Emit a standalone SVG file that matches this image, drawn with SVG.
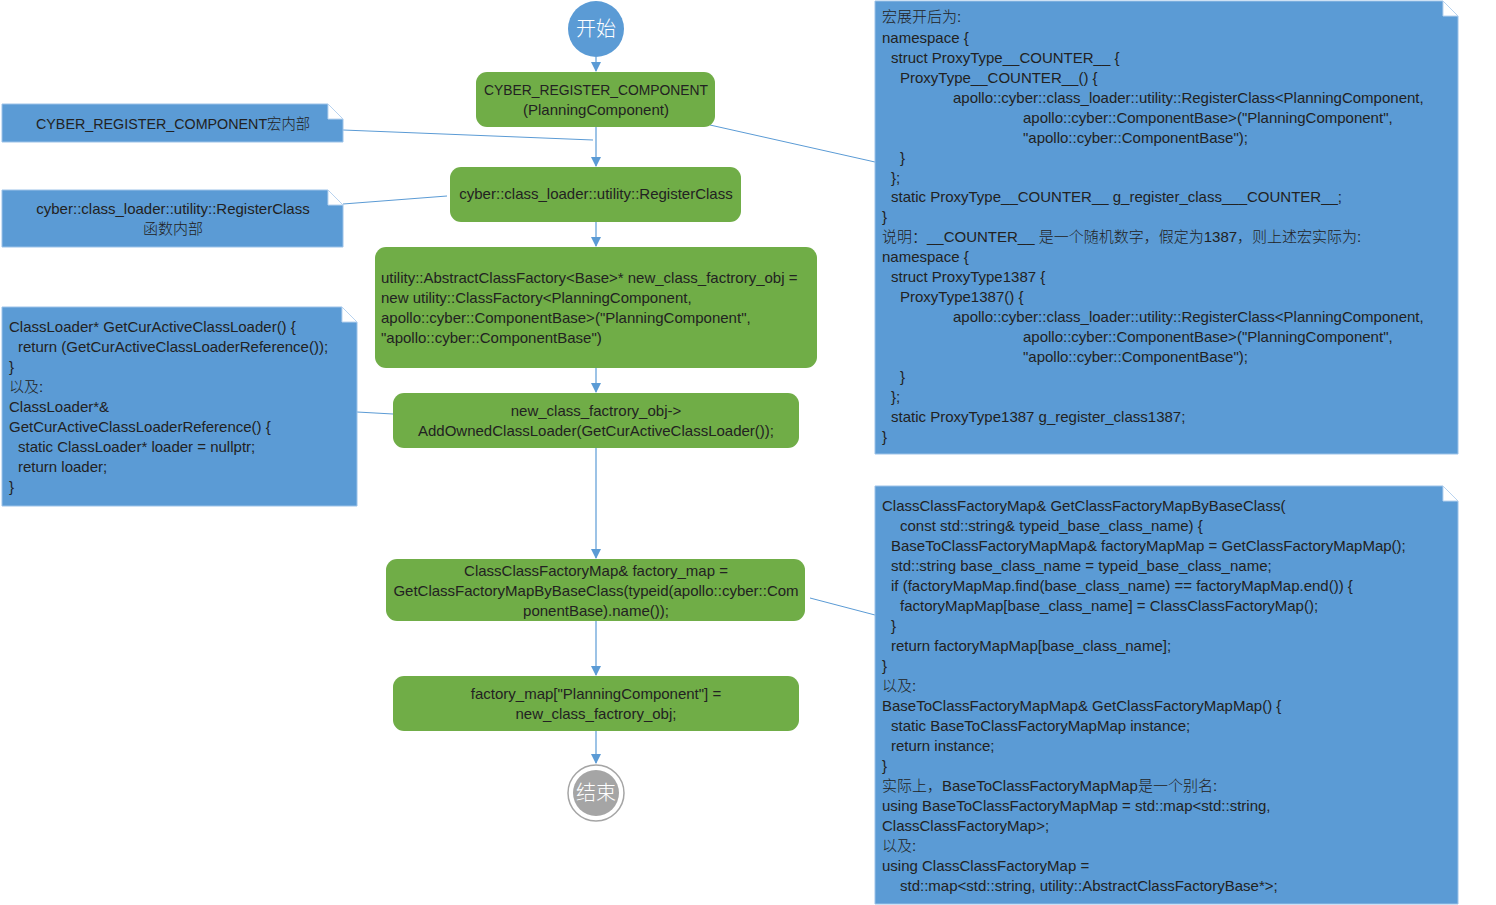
<svg xmlns="http://www.w3.org/2000/svg" width="1496" height="905" viewBox="0 0 1496 905">
<style>
text{font-family:"Liberation Sans","Noto Sans CJK SC",sans-serif;font-size:15px;fill:#222;font-weight:300}
.c{text-anchor:middle}
.note{fill:#5b9bd5;stroke:#9cc2e8;stroke-width:1}
.fold{fill:#ffffff;stroke:#b8d3ef;stroke-width:1}
.box{fill:#70ad47}
.conn{stroke:#5b9bd5;stroke-width:1.2;fill:none}
.lnk{stroke:#5b9bd5;stroke-width:1;fill:none}
.w{fill:#ffffff;font-size:20px}
</style>
<defs>
<marker id="ah" markerWidth="10" markerHeight="10" refX="9" refY="5" orient="auto" markerUnits="userSpaceOnUse">
<path d="M0,0 L10,5 L0,10 z" fill="#5b9bd5"/>
</marker>
</defs>
<rect width="1496" height="905" fill="#ffffff"/>

<g id="connectors">
<line class="conn" x1="596" y1="57" x2="596" y2="71" marker-end="url(#ah)"/>
<line class="conn" x1="596" y1="127" x2="596" y2="166" marker-end="url(#ah)"/>
<line class="conn" x1="596" y1="222" x2="596" y2="246" marker-end="url(#ah)"/>
<line class="conn" x1="596" y1="368" x2="596" y2="392" marker-end="url(#ah)"/>
<line class="conn" x1="596" y1="448" x2="596" y2="558" marker-end="url(#ah)"/>
<line class="conn" x1="596" y1="621" x2="596" y2="675" marker-end="url(#ah)"/>
<line class="conn" x1="596" y1="731" x2="596" y2="763" marker-end="url(#ah)"/>
<line class="lnk" x1="343" y1="130" x2="593" y2="140"/>
<line class="lnk" x1="343" y1="204" x2="447" y2="196"/>
<line class="lnk" x1="357" y1="412" x2="393" y2="414"/>
<line class="lnk" x1="710" y1="125" x2="875" y2="162"/>
<line class="lnk" x1="810" y1="598" x2="875" y2="615"/>
</g>

<g id="start">
<circle cx="596" cy="29" r="28" fill="#5b9bd5"/>
<text class="c w" x="596" y="36">开始</text>
</g>

<g id="n1">
<rect class="box" x="476" y="72" width="239" height="55" rx="11"/>
<text class="c" x="596" y="95" textLength="224" lengthAdjust="spacingAndGlyphs">CYBER_REGISTER_COMPONENT</text>
<text class="c" x="596" y="115">(PlanningComponent)</text>
</g>

<g id="n2">
<rect class="box" x="450" y="167" width="291" height="55" rx="11"/>
<text class="c" x="596" y="199">cyber::class_loader::utility::RegisterClass</text>
</g>

<g id="n3">
<rect class="box" x="375" y="247" width="442" height="121" rx="11"/>
<text x="381" y="283">utility::AbstractClassFactory&lt;Base&gt;* new_class_factrory_obj =</text>
<text x="381" y="303">new utility::ClassFactory&lt;PlanningComponent,</text>
<text x="381" y="323">apollo::cyber::ComponentBase&gt;("PlanningComponent",</text>
<text x="381" y="343">"apollo::cyber::ComponentBase")</text>
</g>

<g id="n4">
<rect class="box" x="393" y="393" width="406" height="55" rx="11"/>
<text class="c" x="596" y="416">new_class_factrory_obj-&gt;</text>
<text class="c" x="596" y="436">AddOwnedClassLoader(GetCurActiveClassLoader());</text>
</g>

<g id="n5">
<rect class="box" x="386" y="559" width="419" height="62" rx="11"/>
<text class="c" x="596" y="576">ClassClassFactoryMap&amp; factory_map =</text>
<text class="c" x="596" y="596">GetClassFactoryMapByBaseClass(typeid(apollo::cyber::Com</text>
<text class="c" x="596" y="616">ponentBase).name());</text>
</g>

<g id="n6">
<rect class="box" x="393" y="676" width="406" height="55" rx="11"/>
<text class="c" x="596" y="699">factory_map["PlanningComponent"] =</text>
<text class="c" x="596" y="719">new_class_factrory_obj;</text>
</g>

<g id="end">
<circle cx="596" cy="793" r="28" fill="#ffffff" stroke="#a5a5a5" stroke-width="1.5"/>
<circle cx="596" cy="793" r="23" fill="#a5a5a5"/>
<text class="c w" x="596" y="800">结束</text>
</g>

<g id="noteA">
<path class="note" d="M2,104 H328 L343,119 V142 H2 Z"/>
<path class="fold" d="M328,104 V119 H343 Z"/>
<text class="c" x="173" y="129" textLength="274" lengthAdjust="spacingAndGlyphs">CYBER_REGISTER_COMPONENT宏内部</text>
</g>

<g id="noteB">
<path class="note" d="M2,190 H328 L343,205 V247 H2 Z"/>
<path class="fold" d="M328,190 V205 H343 Z"/>
<text class="c" x="173" y="214">cyber::class_loader::utility::RegisterClass</text>
<text class="c" x="173" y="234">函数内部</text>
</g>

<g id="noteC">
<path class="note" d="M2,307 H342 L357,322 V506 H2 Z"/>
<path class="fold" d="M342,307 V322 H357 Z"/>
<text x="9" y="332">ClassLoader* GetCurActiveClassLoader() {</text>
<text x="18" y="352">return (GetCurActiveClassLoaderReference());</text>
<text x="9" y="372">}</text>
<text x="9" y="392">以及:</text>
<text x="9" y="412">ClassLoader*&amp;</text>
<text x="9" y="432">GetCurActiveClassLoaderReference() {</text>
<text x="18" y="452">static ClassLoader* loader = nullptr;</text>
<text x="18" y="472">return loader;</text>
<text x="9" y="492">}</text>
</g>

<g id="noteD">
<path class="note" d="M875,1 H1443 L1458,16 V454 H875 Z"/>
<path class="fold" d="M1443,1 V16 H1458 Z"/>
<text x="882" y="22">宏展开后为:</text>
<text x="882" y="43">namespace {</text>
<text x="891" y="63">struct ProxyType__COUNTER__ {</text>
<text x="900" y="83">ProxyType__COUNTER__() {</text>
<text x="953" y="103">apollo::cyber::class_loader::utility::RegisterClass&lt;PlanningComponent,</text>
<text x="1023" y="123">apollo::cyber::ComponentBase&gt;("PlanningComponent",</text>
<text x="1023" y="143">"apollo::cyber::ComponentBase");</text>
<text x="900" y="163">}</text>
<text x="891" y="183">};</text>
<text x="891" y="202">static ProxyType__COUNTER__ g_register_class___COUNTER__;</text>
<text x="882" y="222">}</text>
<text x="882" y="242">说明：__COUNTER__ 是一个随机数字，假定为1387，则上述宏实际为:</text>
<text x="882" y="262">namespace {</text>
<text x="891" y="282">struct ProxyType1387 {</text>
<text x="900" y="302">ProxyType1387() {</text>
<text x="953" y="322">apollo::cyber::class_loader::utility::RegisterClass&lt;PlanningComponent,</text>
<text x="1023" y="342">apollo::cyber::ComponentBase&gt;("PlanningComponent",</text>
<text x="1023" y="362">"apollo::cyber::ComponentBase");</text>
<text x="900" y="382">}</text>
<text x="891" y="402">};</text>
<text x="891" y="422">static ProxyType1387 g_register_class1387;</text>
<text x="882" y="442">}</text>
</g>

<g id="noteE">
<path class="note" d="M875,486 H1443 L1458,501 V904 H875 Z"/>
<path class="fold" d="M1443,486 V501 H1458 Z"/>
<text x="882" y="511">ClassClassFactoryMap&amp; GetClassFactoryMapByBaseClass(</text>
<text x="900" y="531">const std::string&amp; typeid_base_class_name) {</text>
<text x="891" y="551">BaseToClassFactoryMapMap&amp; factoryMapMap = GetClassFactoryMapMap();</text>
<text x="891" y="571">std::string base_class_name = typeid_base_class_name;</text>
<text x="891" y="591">if (factoryMapMap.find(base_class_name) == factoryMapMap.end()) {</text>
<text x="900" y="611">factoryMapMap[base_class_name] = ClassClassFactoryMap();</text>
<text x="891" y="631">}</text>
<text x="891" y="651">return factoryMapMap[base_class_name];</text>
<text x="882" y="671">}</text>
<text x="882" y="691">以及:</text>
<text x="882" y="711">BaseToClassFactoryMapMap&amp; GetClassFactoryMapMap() {</text>
<text x="891" y="731">static BaseToClassFactoryMapMap instance;</text>
<text x="891" y="751">return instance;</text>
<text x="882" y="771">}</text>
<text x="882" y="791">实际上，BaseToClassFactoryMapMap是一个别名:</text>
<text x="882" y="811">using BaseToClassFactoryMapMap = std::map&lt;std::string,</text>
<text x="882" y="831">ClassClassFactoryMap&gt;;</text>
<text x="882" y="851">以及:</text>
<text x="882" y="871">using ClassClassFactoryMap =</text>
<text x="900" y="891">std::map&lt;std::string, utility::AbstractClassFactoryBase*&gt;;</text>
</g>
</svg>
